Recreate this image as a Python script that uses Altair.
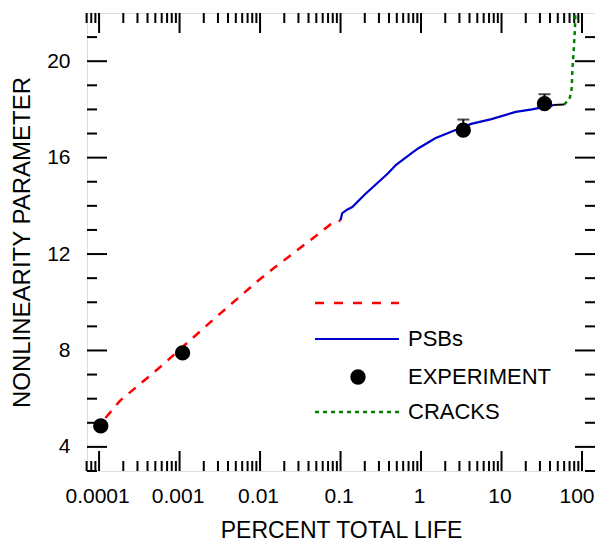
import altair as alt
import pandas as pd

# ---- data ----
red_x = [0.00012, 0.00018, 0.00056, 0.0029, 0.0092, 0.0146, 0.026, 0.045, 0.075, 0.1]
red_y = [5.2, 5.9, 7.28, 9.41, 10.86, 11.4, 12.04, 12.65, 13.23, 13.4]

blue_x = [0.1, 0.105, 0.122, 0.14, 0.2, 0.387, 0.49, 0.75, 0.92, 1.5, 2.37, 4.2, 7.5, 15, 24, 44]
blue_y = [13.4, 13.7, 13.85, 13.95, 14.47, 15.34, 15.7, 16.17, 16.38, 16.8, 17.07, 17.4, 17.6, 17.9, 18.0, 18.18]

black_x = [44, 60]
black_y = [18.18, 18.2]

green_x = [60, 64, 70, 74, 75, 76, 79, 81.8, 83.5]
green_y = [18.2, 18.3, 18.43, 18.8, 19.13, 19.67, 20.5, 21.4, 22.6]

exp_x = [0.000105, 0.00109, 3.35, 34.2]
exp_y = [4.87, 7.9, 17.14, 18.24]

err_x = [3.35, 34.2]
err_lo = [17.14, 18.24]
err_hi = [17.58, 18.63]

x_major = [0.0001, 0.001, 0.01, 0.1, 1, 10, 100]
x_minor = [k * 10.0 ** n for n in range(-5, 2) for k in range(2, 10) if 7e-5 <= k * 10.0 ** n <= 100]
y_major = [4, 8, 12, 16, 20]
y_minor = [3, 5, 6, 7, 9, 10, 11, 13, 14, 15, 17, 18, 19, 21]

legend_labels = ["", "PSBs", "EXPERIMENT", "CRACKS"]

W, H = 508, 458
XDOM = [7.08e-5, 145]
YDOM = [3, 22]
FONT = "Liberation Sans"

xs = alt.Scale(type="log", domain=XDOM, nice=False)
ys = alt.Scale(domain=YDOM, nice=False, zero=False)


def line_layer(xv, yv, color, dash=None, width=2.0):
    df = pd.DataFrame({"x": xv, "y": yv, "o": list(range(len(xv)))})
    kw = dict(color=color, strokeWidth=width, clip=True)
    if dash:
        kw["strokeDash"] = dash
    return alt.Chart(df).mark_line(**kw).encode(
        x=alt.X("x:Q", scale=xs), y=alt.Y("y:Q", scale=ys), order="o:Q"
    )


base_axes = alt.Chart(pd.DataFrame({"x": x_major, "y": [None] * len(x_major)})).mark_point(opacity=0).encode(
    x=alt.X(
        "x:Q",
        scale=xs,
        axis=alt.Axis(
            values=x_major, format="~g", ticks=False, domain=False, grid=False,
            labelFontSize=21, labelFont=FONT, labelColor="black", labelPadding=14,
            labelFlush=False, labelOverlap=False,
            labelAlign={"condition": {"test": "datum.value >= 100", "value": "right"}, "value": "center"},
            labelOffset={"condition": {"test": "datum.value >= 100", "value": 12}, "value": -2},
            title="PERCENT TOTAL LIFE", titleFontSize=23, titleFont=FONT,
            titleFontWeight="normal", titleColor="black", titlePadding=13,
        ),
    ),
    y=alt.Y(
        "y:Q",
        scale=ys,
        axis=alt.Axis(
            values=y_major, ticks=False, domain=False, grid=False,
            labelFontSize=21, labelFont=FONT, labelColor="black", labelPadding=17,
            title="NONLINEARITY PARAMETER", titleFontSize=24, titleFont=FONT,
            titleFontWeight="normal", titleColor="black", titlePadding=12,
        ),
    ),
)


def xticks(vals, length):
    df = pd.DataFrame({"x": vals})
    bot = alt.Chart(df).mark_rule(color="black", strokeWidth=2).encode(
        x=alt.X("x:Q", scale=xs), y=alt.value(H), y2=alt.value(H - length))
    top = alt.Chart(df).mark_rule(color="black", strokeWidth=2).encode(
        x=alt.X("x:Q", scale=xs), y=alt.value(0), y2=alt.value(length))
    return [bot, top]


def yticks(vals, length):
    df = pd.DataFrame({"y": vals})
    left = alt.Chart(df).mark_rule(color="black", strokeWidth=2).encode(
        y=alt.Y("y:Q", scale=ys), x=alt.value(0), x2=alt.value(length))
    right = alt.Chart(df).mark_rule(color="black", strokeWidth=2).encode(
        y=alt.Y("y:Q", scale=ys), x=alt.value(W), x2=alt.value(W - length))
    return [left, right]


red = line_layer(red_x, red_y, "#ff0000", dash=[9, 8], width=2.5)
blue = line_layer(blue_x, blue_y, "#0000cc", width=2.2)
black = line_layer(black_x, black_y, "black", width=2)
green = line_layer(green_x, green_y, "#008000", dash=[4, 4], width=2.5)

err_df = pd.DataFrame({"x": err_x, "lo": err_lo, "hi": err_hi})
err_rule = alt.Chart(err_df).mark_rule(color="black", strokeWidth=2).encode(
    x=alt.X("x:Q", scale=xs), y=alt.Y("lo:Q", scale=ys), y2="hi:Q")
err_cap = alt.Chart(err_df).mark_tick(color="black", orient="horizontal", size=12, thickness=2).encode(
    x=alt.X("x:Q", scale=xs), y=alt.Y("hi:Q", scale=ys))

exp = alt.Chart(pd.DataFrame({"x": exp_x, "y": exp_y})).mark_circle(
    color="black", opacity=1, size=235).encode(
    x=alt.X("x:Q", scale=xs), y=alt.Y("y:Q", scale=ys))

# ---- legend (manual) ----
LX1, LX2, LXC, LTX = 228, 312, 271, 321
rows = [290, 326, 364, 399]

def leg_line(row, color, dash=None, width=2.5):
    kw = dict(color=color, strokeWidth=width)
    if dash:
        kw["strokeDash"] = dash
    return alt.Chart(pd.DataFrame({"a": [0]})).mark_rule(**kw).encode(
        x=alt.value(LX1), x2=alt.value(LX2), y=alt.value(row))

leg_df = pd.DataFrame({"label": legend_labels, "row": rows})
leg_text = alt.Chart(leg_df).mark_text(
    align="left", baseline="middle", fontSize=22, font=FONT, color="black").encode(
    x=alt.value(LTX), y=alt.Y("row:Q", scale=None), text="label:N")
leg_dot = alt.Chart(pd.DataFrame({"a": [0]})).mark_circle(color="black", opacity=1, size=235).encode(
    x=alt.value(LXC), y=alt.value(rows[2]))

layers = [base_axes]
layers += xticks(x_major, 20) + xticks(x_minor, 10) + yticks(y_major, 20) + yticks(y_minor, 10)
layers += [red, blue, black, green, err_rule, err_cap, exp]
layers += [leg_line(rows[0], "#ff0000", [9, 10]), leg_line(rows[1], "#0000cc", None, 2.2),
           leg_dot, leg_line(rows[3], "#008000", [4, 4]), leg_text]

chart = alt.layer(*layers).properties(
    width=W, height=H,
    autosize=alt.AutoSizeParams(type="none"),
    padding={"left": 79, "top": 5, "right": 0, "bottom": 71},
).configure_view(stroke="black", strokeWidth=2).configure(background="white")

chart.save("out.html", embed_options={"renderer": "svg", "actions": False})
